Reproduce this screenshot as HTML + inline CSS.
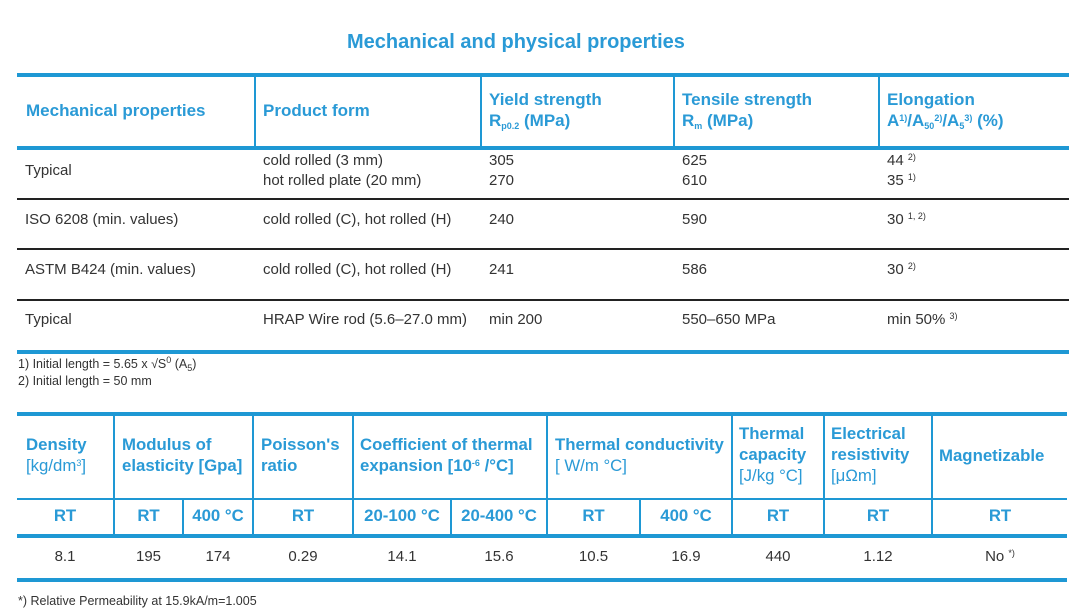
<!DOCTYPE html>
<html><head><meta charset="utf-8"><style>
body{margin:0;width:1080px;height:615px;background:#fff;position:relative;overflow:hidden;font-family:"Liberation Sans",sans-serif;color:#333}
.a{position:absolute;white-space:nowrap}
.b{background:#1e98d4;position:absolute}
.k{background:#222;position:absolute}
.h{color:#2a9ad6;font-weight:bold;font-size:16.8px;line-height:21px}
.t{font-size:15px;line-height:20px}
.c{text-align:center}
.n{font-weight:normal}
sup,sub{font-size:9px;line-height:0;position:relative;vertical-align:baseline}
sup{top:-0.6em}
sub{top:0.35em}
</style></head><body>
<div class="a h" style="left:347px;top:32px;font-size:20px">Mechanical and physical properties</div>

<div class="b" style="left:17px;top:73px;width:1052px;height:4px"></div>
<div class="b" style="left:17px;top:146px;width:1052px;height:4px"></div>
<div class="b" style="left:254px;top:77px;width:2px;height:69px"></div>
<div class="b" style="left:480px;top:77px;width:2px;height:69px"></div>
<div class="b" style="left:673px;top:77px;width:2px;height:69px"></div>
<div class="b" style="left:878px;top:77px;width:2px;height:69px"></div>
<div class="a h" style="left:26px;top:100px;font-size:17px">Mechanical properties</div>
<div class="a h" style="left:263px;top:100px;font-size:17px">Product form</div>
<div class="a h" style="left:489px;top:89px;font-size:17px">Yield strength<br>R<sub>p0.2</sub> (MPa)</div>
<div class="a h" style="left:682px;top:89px;font-size:17px">Tensile strength<br>R<sub>m</sub> (MPa)</div>
<div class="a h" style="left:887px;top:89px;font-size:17px">Elongation<br>A<sup>1)</sup>/A<sub>50</sub><sup>2)</sup>/A<sub>5</sub><sup>3)</sup> (%)</div>

<div class="k" style="left:17px;top:198px;width:1052px;height:2px"></div>
<div class="k" style="left:17px;top:248px;width:1052px;height:2px"></div>
<div class="k" style="left:17px;top:299px;width:1052px;height:2px"></div>
<div class="b" style="left:17px;top:350px;width:1052px;height:4px"></div>

<div class="a t" style="left:25px;top:161px">Typical</div>
<div class="a t" style="left:263px;top:151px">cold rolled (3 mm)<br>hot rolled plate (20 mm)</div>
<div class="a t" style="left:489px;top:151px">305<br>270</div>
<div class="a t" style="left:682px;top:151px">625<br>610</div>
<div class="a t" style="left:887px;top:151px">44 <sup>2)</sup><br>35 <sup>1)</sup></div>

<div class="a t" style="left:25px;top:210px">ISO 6208 (min. values)</div>
<div class="a t" style="left:263px;top:210px">cold rolled (C), hot rolled (H)</div>
<div class="a t" style="left:489px;top:210px">240</div>
<div class="a t" style="left:682px;top:210px">590</div>
<div class="a t" style="left:887px;top:210px">30 <sup>1, 2)</sup></div>

<div class="a t" style="left:25px;top:260px">ASTM B424 (min. values)</div>
<div class="a t" style="left:263px;top:260px">cold rolled (C), hot rolled (H)</div>
<div class="a t" style="left:489px;top:260px">241</div>
<div class="a t" style="left:682px;top:260px">586</div>
<div class="a t" style="left:887px;top:260px">30 <sup>2)</sup></div>

<div class="a t" style="left:25px;top:310px">Typical</div>
<div class="a t" style="left:263px;top:310px">HRAP Wire rod (5.6–27.0 mm)</div>
<div class="a t" style="left:489px;top:310px">min 200</div>
<div class="a t" style="left:682px;top:310px">550–650 MPa</div>
<div class="a t" style="left:887px;top:310px">min 50% <sup>3)</sup></div>

<div class="a" style="left:18px;top:356px;font-size:12.5px;line-height:17px">1) Initial length = 5.65 x √S<sup>0</sup> (A<sub>5</sub>)<br>2) Initial length = 50 mm</div>

<div class="b" style="left:17px;top:412px;width:1050px;height:4px"></div>
<div class="b" style="left:17px;top:498px;width:1050px;height:2px"></div>
<div class="b" style="left:17px;top:534px;width:1050px;height:4px"></div>
<div class="b" style="left:17px;top:578px;width:1050px;height:4px"></div>
<div class="b" style="left:113px;top:416px;width:2px;height:118px"></div>
<div class="b" style="left:182px;top:500px;width:2px;height:34px"></div>
<div class="b" style="left:252px;top:416px;width:2px;height:118px"></div>
<div class="b" style="left:352px;top:416px;width:2px;height:118px"></div>
<div class="b" style="left:450px;top:500px;width:2px;height:34px"></div>
<div class="b" style="left:546px;top:416px;width:2px;height:118px"></div>
<div class="b" style="left:639px;top:500px;width:2px;height:34px"></div>
<div class="b" style="left:731px;top:416px;width:2px;height:118px"></div>
<div class="b" style="left:823px;top:416px;width:2px;height:118px"></div>
<div class="b" style="left:931px;top:416px;width:2px;height:118px"></div>

<div class="a h" style="left:26px;top:434px">Density<br><span class="n">[kg/dm<sup>3</sup>]</span></div>
<div class="a h" style="left:122px;top:434px">Modulus of<br>elasticity [Gpa]</div>
<div class="a h" style="left:261px;top:434px">Poisson's<br>ratio</div>
<div class="a h" style="left:360px;top:434px">Coefficient of thermal<br>expansion [10<sup>-6</sup> /°C]</div>
<div class="a h" style="left:555px;top:434px">Thermal conductivity<br><span class="n">[ W/m °C]</span></div>
<div class="a h" style="left:739px;top:423px">Thermal<br>capacity<br><span class="n">[J/kg °C]</span></div>
<div class="a h" style="left:831px;top:423px">Electrical<br>resistivity<br><span class="n">[μΩm]</span></div>
<div class="a h" style="left:939px;top:445px">Magnetizable</div>

<div class="a h c" style="left:17px;width:96px;top:505px">RT</div>
<div class="a h c" style="left:115px;width:67px;top:505px">RT</div>
<div class="a h c" style="left:184px;width:68px;top:505px">400 °C</div>
<div class="a h c" style="left:254px;width:98px;top:505px">RT</div>
<div class="a h c" style="left:354px;width:96px;top:505px">20-100 °C</div>
<div class="a h c" style="left:452px;width:94px;top:505px">20-400 °C</div>
<div class="a h c" style="left:548px;width:91px;top:505px">RT</div>
<div class="a h c" style="left:641px;width:90px;top:505px">400 °C</div>
<div class="a h c" style="left:733px;width:90px;top:505px">RT</div>
<div class="a h c" style="left:825px;width:106px;top:505px">RT</div>
<div class="a h c" style="left:933px;width:134px;top:505px">RT</div>

<div class="a t c" style="left:17px;width:96px;top:547px">8.1</div>
<div class="a t c" style="left:115px;width:67px;top:547px">195</div>
<div class="a t c" style="left:184px;width:68px;top:547px">174</div>
<div class="a t c" style="left:254px;width:98px;top:547px">0.29</div>
<div class="a t c" style="left:354px;width:96px;top:547px">14.1</div>
<div class="a t c" style="left:452px;width:94px;top:547px">15.6</div>
<div class="a t c" style="left:548px;width:91px;top:547px">10.5</div>
<div class="a t c" style="left:641px;width:90px;top:547px">16.9</div>
<div class="a t c" style="left:733px;width:90px;top:547px">440</div>
<div class="a t c" style="left:825px;width:106px;top:547px">1.12</div>
<div class="a t c" style="left:933px;width:134px;top:547px">No <sup>*)</sup></div>

<div class="a" style="left:18px;top:593px;font-size:12.5px;line-height:16px">*) Relative Permeability at 15.9kA/m=1.005</div>
</body></html>
